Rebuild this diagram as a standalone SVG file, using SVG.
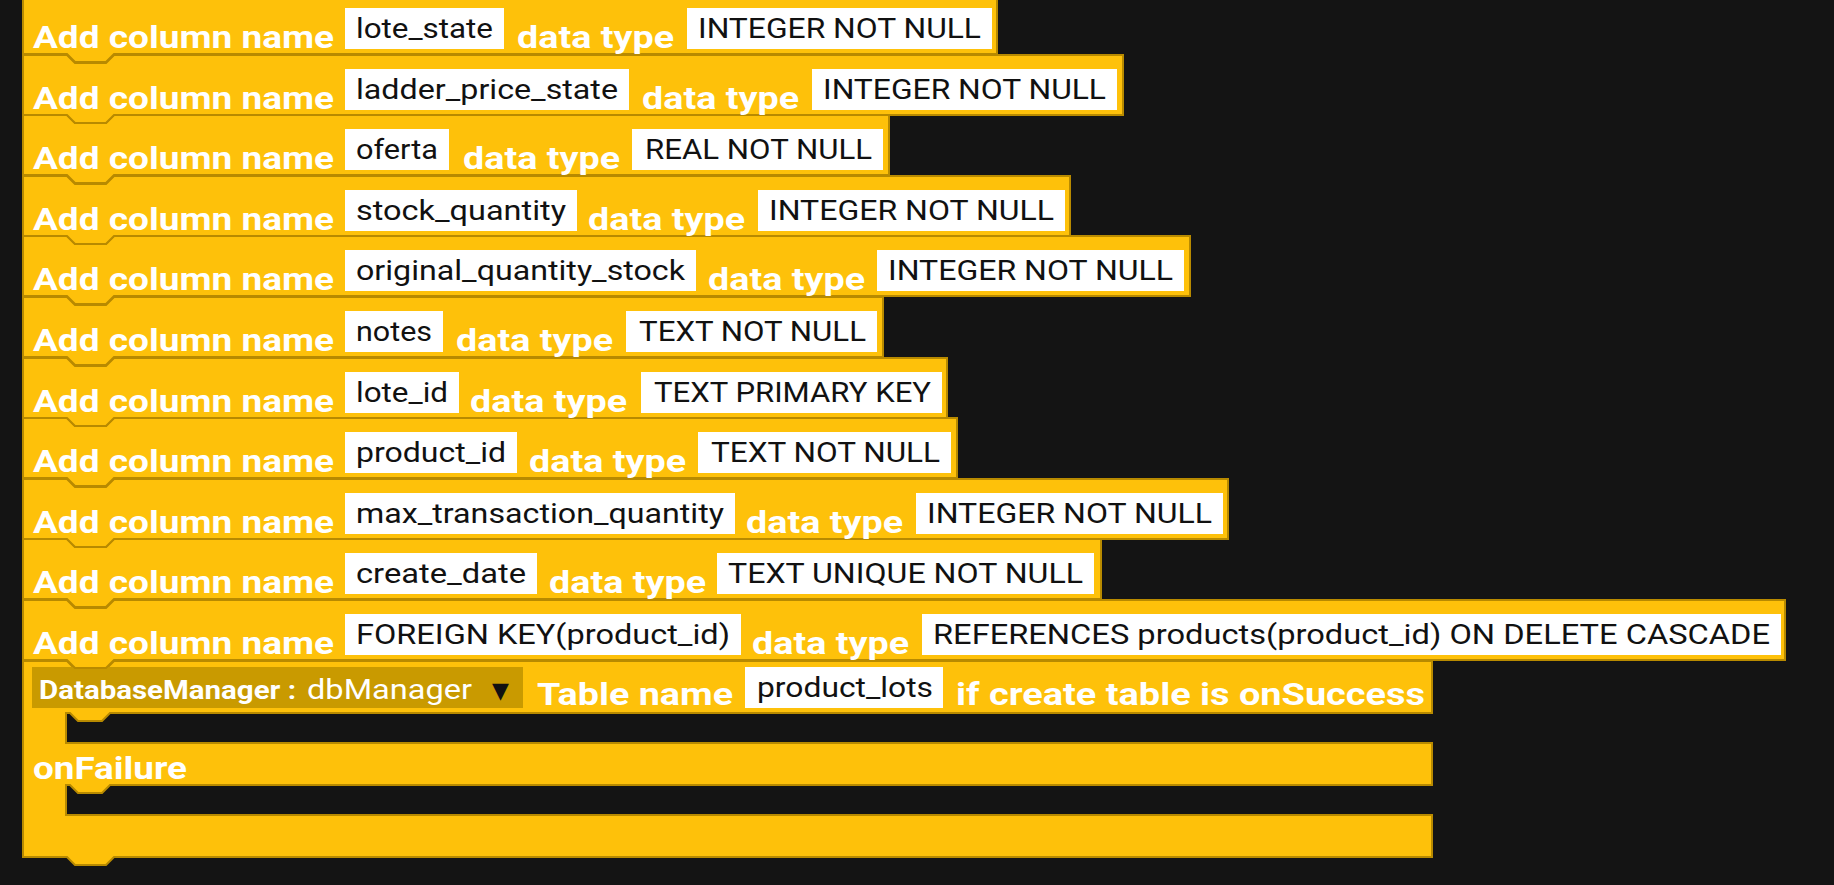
<svg xmlns="http://www.w3.org/2000/svg" width="1834" height="885" viewBox="0 0 1834 885">
<defs><style>
.b{fill:#FEC10A;stroke:#B88A00;stroke-width:2}
.l{font-family:Roboto,"Liberation Sans",sans-serif;font-weight:bold;font-size:31px;fill:#fff}
.f{fill:#fff}
.t{font-family:Roboto,"Liberation Sans",sans-serif;font-size:27px;fill:#111}
.dd{fill:#C99A00}
</style></defs>
<rect width="1834" height="885" fill="#141414"/>
<g id="final">
<path class="b" d="M23,661 L67,661 L75,669 L106,669 L114,661 L1432,661 L1432,713 L110,713 L102,721 L78,721 L70,713 L66,713 L66,743 L1432,743 L1432,785 L110,785 L102,793 L78,793 L70,785 L66,785 L66,815 L1432,815 L1432,857 L114,857 L106,865 L75,865 L67,857 L23,857 Z"/>
<rect class="dd" x="32" y="667" width="491" height="41"/>
<text class="l" x="39" y="699" style="font-size:25px" textLength="257" lengthAdjust="spacingAndGlyphs">DatabaseManager :</text>
<text class="l" x="307" y="699" style="font-size:28px;font-weight:normal" textLength="165" lengthAdjust="spacingAndGlyphs">dbManager</text>
<text x="492" y="698" font-family="DejaVu Sans,sans-serif" font-size="22" fill="#111">▼</text>
<text class="l" x="537" y="705" textLength="196" lengthAdjust="spacingAndGlyphs">Table name</text>
<rect class="f" x="745" y="667" width="198" height="41"/>
<text class="t" x="757" y="697" textLength="176" lengthAdjust="spacingAndGlyphs">product_lots</text>
<text class="l" x="956" y="705" textLength="469" lengthAdjust="spacingAndGlyphs">if create table is onSuccess</text>
<text class="l" x="33" y="779" textLength="154" lengthAdjust="spacingAndGlyphs">onFailure</text>
</g>
<g id="r10" transform="translate(0,599)"><path class="b" d="M23,1 L67,1 L75,9 L106,9 L114,1 L1785,1 L1785,61 L114,61 L106,69 L75,69 L67,61 L23,61 Z"/><text class="l" x="33" y="55" textLength="301" lengthAdjust="spacingAndGlyphs">Add column name</text><rect class="f" x="345" y="15" width="396" height="41"/><text class="t" x="356" y="45" textLength="374" lengthAdjust="spacingAndGlyphs">FOREIGN KEY(product_id)</text><text class="l" x="752" y="55" textLength="157" lengthAdjust="spacingAndGlyphs">data type</text><rect class="f" x="922" y="15" width="859" height="41"/><text class="t" x="933" y="45" textLength="837" lengthAdjust="spacingAndGlyphs">REFERENCES products(product_id) ON DELETE CASCADE</text></g>
<g id="r9" transform="translate(0,538)"><path class="b" d="M23,1 L67,1 L75,9 L106,9 L114,1 L1101,1 L1101,61 L114,61 L106,69 L75,69 L67,61 L23,61 Z"/><text class="l" x="33" y="55" textLength="301" lengthAdjust="spacingAndGlyphs">Add column name</text><rect class="f" x="345" y="15" width="192" height="41"/><text class="t" x="356" y="45" textLength="170" lengthAdjust="spacingAndGlyphs">create_date</text><text class="l" x="549" y="55" textLength="157" lengthAdjust="spacingAndGlyphs">data type</text><rect class="f" x="717" y="15" width="377" height="41"/><text class="t" x="728" y="45" textLength="355" lengthAdjust="spacingAndGlyphs">TEXT UNIQUE NOT NULL</text></g>
<g id="r8" transform="translate(0,478)"><path class="b" d="M23,1 L67,1 L75,9 L106,9 L114,1 L1228,1 L1228,61 L114,61 L106,69 L75,69 L67,61 L23,61 Z"/><text class="l" x="33" y="55" textLength="301" lengthAdjust="spacingAndGlyphs">Add column name</text><rect class="f" x="345" y="15" width="390" height="41"/><text class="t" x="356" y="45" textLength="368" lengthAdjust="spacingAndGlyphs">max_transaction_quantity</text><text class="l" x="746" y="55" textLength="157" lengthAdjust="spacingAndGlyphs">data type</text><rect class="f" x="916" y="15" width="307" height="41"/><text class="t" x="927" y="45" textLength="285" lengthAdjust="spacingAndGlyphs">INTEGER NOT NULL</text></g>
<g id="r7" transform="translate(0,417)"><path class="b" d="M23,1 L67,1 L75,9 L106,9 L114,1 L957,1 L957,61 L114,61 L106,69 L75,69 L67,61 L23,61 Z"/><text class="l" x="33" y="55" textLength="301" lengthAdjust="spacingAndGlyphs">Add column name</text><rect class="f" x="345" y="15" width="172" height="41"/><text class="t" x="356" y="45" textLength="150" lengthAdjust="spacingAndGlyphs">product_id</text><text class="l" x="529" y="55" textLength="157" lengthAdjust="spacingAndGlyphs">data type</text><rect class="f" x="698" y="15" width="253" height="41"/><text class="t" x="711" y="45" textLength="229" lengthAdjust="spacingAndGlyphs">TEXT NOT NULL</text></g>
<g id="r6" transform="translate(0,357)"><path class="b" d="M23,1 L67,1 L75,9 L106,9 L114,1 L947,1 L947,61 L114,61 L106,69 L75,69 L67,61 L23,61 Z"/><text class="l" x="33" y="55" textLength="301" lengthAdjust="spacingAndGlyphs">Add column name</text><rect class="f" x="345" y="15" width="114" height="41"/><text class="t" x="356" y="45" textLength="92" lengthAdjust="spacingAndGlyphs">lote_id</text><text class="l" x="470" y="55" textLength="157" lengthAdjust="spacingAndGlyphs">data type</text><rect class="f" x="641" y="15" width="301" height="41"/><text class="t" x="654" y="45" textLength="277" lengthAdjust="spacingAndGlyphs">TEXT PRIMARY KEY</text></g>
<g id="r5" transform="translate(0,296)"><path class="b" d="M23,1 L67,1 L75,9 L106,9 L114,1 L883,1 L883,61 L114,61 L106,69 L75,69 L67,61 L23,61 Z"/><text class="l" x="33" y="55" textLength="301" lengthAdjust="spacingAndGlyphs">Add column name</text><rect class="f" x="345" y="15" width="98" height="41"/><text class="t" x="356" y="45" textLength="76" lengthAdjust="spacingAndGlyphs">notes</text><text class="l" x="456" y="55" textLength="157" lengthAdjust="spacingAndGlyphs">data type</text><rect class="f" x="626" y="15" width="251" height="41"/><text class="t" x="639" y="45" textLength="227" lengthAdjust="spacingAndGlyphs">TEXT NOT NULL</text></g>
<g id="r4" transform="translate(0,235)"><path class="b" d="M23,1 L67,1 L75,9 L106,9 L114,1 L1190,1 L1190,61 L114,61 L106,69 L75,69 L67,61 L23,61 Z"/><text class="l" x="33" y="55" textLength="301" lengthAdjust="spacingAndGlyphs">Add column name</text><rect class="f" x="345" y="15" width="351" height="41"/><text class="t" x="356" y="45" textLength="329" lengthAdjust="spacingAndGlyphs">original_quantity_stock</text><text class="l" x="708" y="55" textLength="157" lengthAdjust="spacingAndGlyphs">data type</text><rect class="f" x="877" y="15" width="307" height="41"/><text class="t" x="888" y="45" textLength="285" lengthAdjust="spacingAndGlyphs">INTEGER NOT NULL</text></g>
<g id="r3" transform="translate(0,175)"><path class="b" d="M23,1 L67,1 L75,9 L106,9 L114,1 L1070,1 L1070,61 L114,61 L106,69 L75,69 L67,61 L23,61 Z"/><text class="l" x="33" y="55" textLength="301" lengthAdjust="spacingAndGlyphs">Add column name</text><rect class="f" x="345" y="15" width="232" height="41"/><text class="t" x="356" y="45" textLength="210" lengthAdjust="spacingAndGlyphs">stock_quantity</text><text class="l" x="588" y="55" textLength="157" lengthAdjust="spacingAndGlyphs">data type</text><rect class="f" x="758" y="15" width="307" height="41"/><text class="t" x="769" y="45" textLength="285" lengthAdjust="spacingAndGlyphs">INTEGER NOT NULL</text></g>
<g id="r2" transform="translate(0,114)"><path class="b" d="M23,1 L67,1 L75,9 L106,9 L114,1 L889,1 L889,61 L114,61 L106,69 L75,69 L67,61 L23,61 Z"/><text class="l" x="33" y="55" textLength="301" lengthAdjust="spacingAndGlyphs">Add column name</text><rect class="f" x="345" y="15" width="104" height="41"/><text class="t" x="356" y="45" textLength="82" lengthAdjust="spacingAndGlyphs">oferta</text><text class="l" x="463" y="55" textLength="157" lengthAdjust="spacingAndGlyphs">data type</text><rect class="f" x="632" y="15" width="251" height="41"/><text class="t" x="645" y="45" textLength="227" lengthAdjust="spacingAndGlyphs">REAL NOT NULL</text></g>
<g id="r1" transform="translate(0,54)"><path class="b" d="M23,1 L67,1 L75,9 L106,9 L114,1 L1123,1 L1123,61 L114,61 L106,69 L75,69 L67,61 L23,61 Z"/><text class="l" x="33" y="55" textLength="301" lengthAdjust="spacingAndGlyphs">Add column name</text><rect class="f" x="345" y="15" width="284" height="41"/><text class="t" x="356" y="45" textLength="262" lengthAdjust="spacingAndGlyphs">ladder_price_state</text><text class="l" x="642" y="55" textLength="157" lengthAdjust="spacingAndGlyphs">data type</text><rect class="f" x="812" y="15" width="305" height="41"/><text class="t" x="823" y="45" textLength="283" lengthAdjust="spacingAndGlyphs">INTEGER NOT NULL</text></g>
<g id="r0" transform="translate(0,-7)"><path class="b" d="M23,-2 L1,-2 L1,-2 L997,-2 L997,61 L114,61 L106,69 L75,69 L67,61 L23,61 Z"/><text class="l" x="33" y="55" textLength="301" lengthAdjust="spacingAndGlyphs">Add column name</text><rect class="f" x="345" y="15" width="159" height="41"/><text class="t" x="356" y="45" textLength="137" lengthAdjust="spacingAndGlyphs">lote_state</text><text class="l" x="517" y="55" textLength="157" lengthAdjust="spacingAndGlyphs">data type</text><rect class="f" x="687" y="15" width="305" height="41"/><text class="t" x="698" y="45" textLength="283" lengthAdjust="spacingAndGlyphs">INTEGER NOT NULL</text></g>
<g id="connectors"/>
</svg>
